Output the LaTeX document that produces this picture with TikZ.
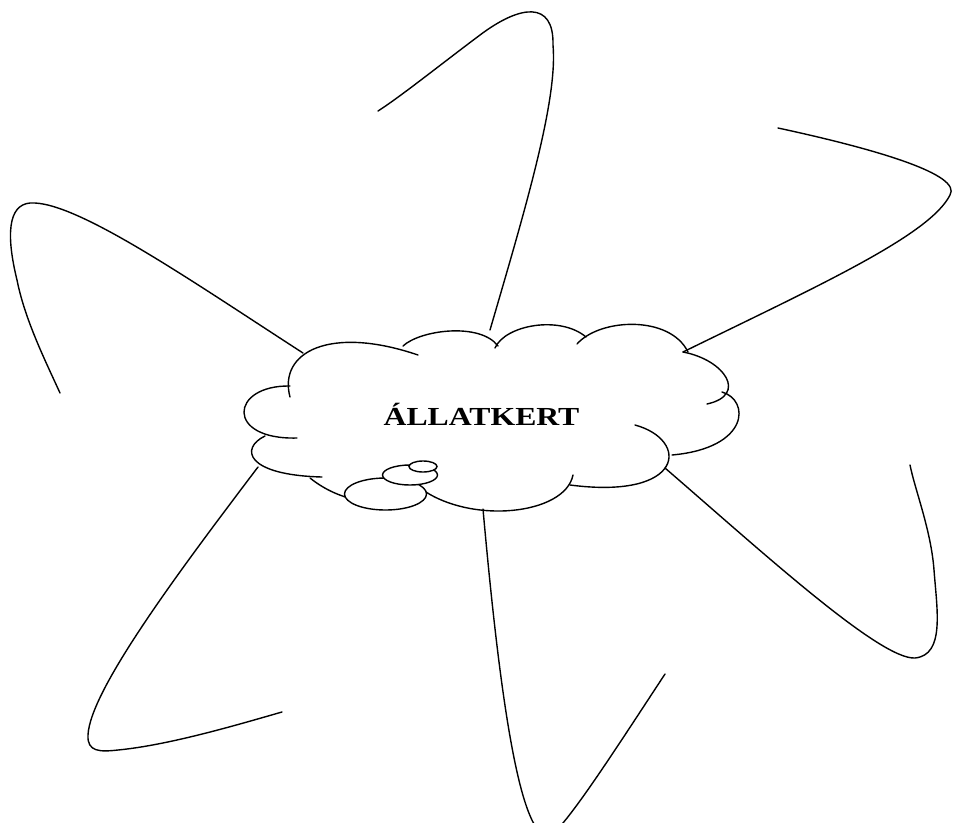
\documentclass[tikz,border=0pt]{standalone}
\usepackage{fontspec}
\setmainfont{Liberation Serif}
\usepackage{tikz}

\begin{document}
\begin{tikzpicture}[
  x=1pt, y=-1pt,
  line width=1.4pt,
  arm/.style={line cap=round},
  bump/.style={line cap=round},
  bubble/.style={draw, fill=white},
  title/.style={font=\fontsize{26}{26}\selectfont\bfseries, anchor=base, inner sep=0pt}
]
\useasboundingbox (0,0) rectangle (953,822);
\clip (0,0) rectangle (953,822);

% cloud outline, bump by bump
\draw[bump] (290,397) .. controls (278,352) and (330,325) .. (418,355);
\draw[bump] (403,346) .. controls (420,330) and (480,322) .. (498,346);
\draw[bump] (495,348) .. controls (505,325) and (560,315) .. (586,337);
\draw[bump] (577,344) .. controls (600,318) and (670,315) .. (688,352);
\draw[bump] (683,352) .. controls (725,360) and (748,395) .. (707,404);
\draw[bump] (722,392) .. controls (750,400) and (750,448) .. (672,455);
\draw[bump] (635,425) .. controls (690,440) and (685,500) .. (570,485);
\draw[bump] (573,475) .. controls (565,515) and (470,525) .. (420,488);
\draw[bump] (310,478) .. controls (325,490) and (345,500) .. (375,503);
\draw[bump] (265,436) .. controls (240,448) and (245,475) .. (322,477);
\draw[bump] (290,386) .. controls (230,385) and (225,440) .. (297,438);

% little bubbles of the callout
\draw[bubble] (385.5,494) ellipse [x radius=41, y radius=16];
\draw[bubble] (410,475) ellipse [x radius=27.5, y radius=10];
\draw[bubble] (423,466.5) ellipse [x radius=14, y radius=5.5];

\node[title] (allatkert) at (481.5,425) {\scalebox{1.22}[1]{ÁLLATKERT}};

% arms
\draw[arm] (490,330) .. controls (525,210) and (558,100) .. (553,45)
  .. controls (554,0) and (520,5) .. (480,35)
  .. controls (440,65) and (400,97) .. (378,111);
\draw[arm] (303,353) .. controls (190,280) and (75,200) .. (30,203)
  .. controls (8,205) and (6,235) .. (17,280)
  .. controls (25,320) and (45,360) .. (60,393);
\draw[arm] (683,352) .. controls (820,285) and (930,235) .. (950,195)
  .. controls (962,175) and (880,150) .. (778,128);
\draw[arm] (665,468) .. controls (760,550) and (880,660) .. (915,658)
  .. controls (945,655) and (937,610) .. (934,570)
  .. controls (931,530) and (915,490) .. (910,465);
\draw[arm] (483,509) .. controls (500,700) and (520,836) .. (548,836)
  .. controls (560,836) and (615,750) .. (665,674);
\draw[arm] (258,467) .. controls (180,570) and (90,690) .. (88,735)
  .. controls (87,752) and (100,752) .. (118,750)
  .. controls (170,745) and (240,724) .. (282,712);
\end{tikzpicture}
\end{document}
